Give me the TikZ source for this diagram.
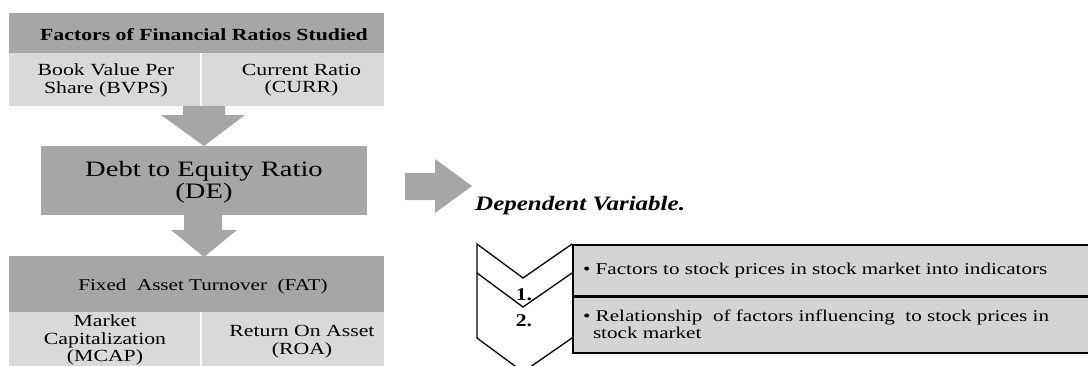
\documentclass[tikz,border=0pt]{standalone}
\usepackage{fontspec}
\setmainfont{Liberation Serif}
\definecolor{dgray}{HTML}{A6A6A6}
\definecolor{lgray}{HTML}{D9D9D9}
\definecolor{agray}{HTML}{A6A6A6}
\definecolor{bgray}{HTML}{D4D4D4}
\newcommand{\sx}[1]{\scalebox{1.28}[1]{#1}}
\newcommand{\sxb}[1]{\scalebox{1.3}[1]{#1}}
\begin{document}
\begin{tikzpicture}[x=1pt,y=-1pt,
  box/.style={rectangle, inner sep=0pt, outer sep=0pt, draw=none},
  dk/.style={box, fill=dgray},
  lt/.style={box, fill=lgray},
  txt/.style={inner sep=0pt, outer sep=0pt, align=center, font=\fontsize{17}{17.2}\selectfont},
  ltxt/.style={inner sep=0pt, outer sep=0pt, align=left, font=\fontsize{16.5}{17.5}\selectfont},
  blockarrow/.style={fill=agray, draw=none},
  chev/.style={draw=black, line width=1.3pt, line join=miter},
  item/.style={rectangle, draw=black, line width=2pt, fill=bgray, inner sep=0pt, anchor=north west, minimum width=530pt},
]
\useasboundingbox (0,0) rectangle (1088,365);
\clip (0,0) rectangle (1088,365);

% left column boxes
\node[dk, minimum width=375pt, minimum height=40pt] (hdr) at (196.5,33) {};
\node[lt, minimum width=191pt, minimum height=53pt] (bvps) at (104.5,79.5) {};
\node[lt, minimum width=182pt, minimum height=53pt] (curr) at (293,79.5) {};
\node[dk, minimum width=326pt, minimum height=69pt] (de) at (204,180.5) {};
\node[dk, minimum width=375pt, minimum height=56pt] (fat) at (196.5,284) {};
\node[lt, minimum width=191pt, minimum height=60pt] (mcap) at (104.5,342) {};
\node[lt, minimum width=182pt, minimum height=60pt] (roa) at (293,342) {};

% texts
\node[txt, anchor=base, font=\fontsize{17}{17}\selectfont\bfseries] (hdrt) at (204,40) {\sx{Factors of Financial Ratios Studied}};
\node[txt] (bvpst) at (106,80.5) {\sx{Book Value Per}\\\sx{Share (BVPS)}};
\node[txt] (currt) at (301.5,80.5) {\sx{Current Ratio}\\\sx{(CURR)}};
\node[txt, font=\fontsize{22}{21.5}\selectfont] (det) at (204,182) {\sxb{Debt to Equity Ratio}\\\sxb{(DE)}};
\node[txt, anchor=base, font=\fontsize{16.5}{17}\selectfont] (fatt) at (203,290) {\sx{Fixed\ \ Asset Turnover\ \ (FAT)}};
\node[txt, font=\fontsize{17}{17.5}\selectfont] (mcapt) at (105,340.3) {\sx{Market}\\\sx{Capitalization}\\\sx{(MCAP)}};
\node[txt, font=\fontsize{17}{18.3}\selectfont] (roat) at (302,342) {\sx{Return On Asset}\\\sx{(ROA)}};

% block arrows
\fill[blockarrow] (183,106) -- (225,106) -- (225,115) -- (245,115) -- (204,146) -- (161,115) -- (183,115) -- cycle;
\fill[blockarrow] (184,215) -- (222,215) -- (222,230) -- (237,230) -- (204,257) -- (171,230) -- (184,230) -- cycle;
\fill[blockarrow] (405,173) -- (435,173) -- (435,159) -- (472,186) -- (435,213) -- (435,200) -- (405,200) -- cycle;

\node[inner sep=0pt, anchor=base west, font=\fontsize{20.5}{20}\selectfont\bfseries\itshape] (dep) at (475,210) {\scalebox{1.22}[1]{Dependent Variable.}};

% chevrons
\draw[chev] (572,244) -- (523,278) -- (477,244) -- (477,338) -- (523,372) -- (572,338);
\draw[chev] (477,273) -- (523,307) -- (572,273);
\node[inner sep=0pt, anchor=base, font=\fontsize{18}{18}\selectfont\bfseries] (n1) at (524,300) {\scalebox{1.2}[1]{1.}};
\node[inner sep=0pt, anchor=base, font=\fontsize{18}{18}\selectfont\bfseries] (n2) at (524,326.7) {\scalebox{1.2}[1]{2.}};

% list boxes
\node[item, minimum height=50.5pt] (item1) at (572,244) {};
\node[item, minimum height=56.5pt] (item2) at (572,295.5) {};
\node[ltxt, anchor=base west] (item1t) at (583,274) {\sx{•\ Factors to stock prices in stock market into indicators}};
\node[ltxt, anchor=north west] (item2t) at (583,309.8) {\sx{• Relationship\ \ of factors influencing\ \ to stock prices in}\\\hspace*{10pt}\sx{stock market}};
\end{tikzpicture}
\end{document}
